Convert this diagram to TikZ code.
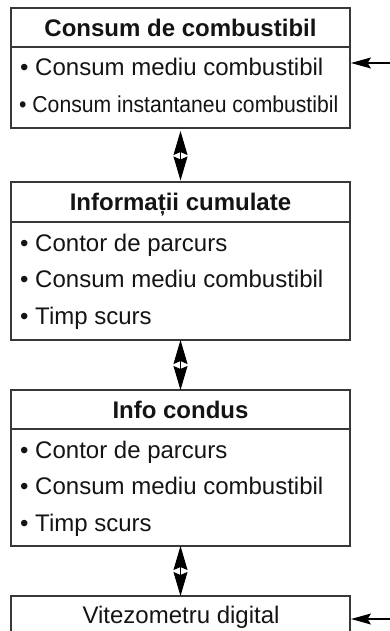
\documentclass[tikz,border=0pt]{standalone}
\usepackage{fontspec}
\setmainfont{Liberation Sans}
\usetikzlibrary{arrows.meta}
\begin{document}
\begin{tikzpicture}[x=1pt,y=-1pt,
  box/.style={draw=black!78,line width=1.2pt,minimum width=339pt,inner sep=0pt,outer sep=0pt},
  ttl/.style={font=\fontsize{24}{28}\selectfont\bfseries,inner sep=0pt,anchor=base,text=black!92},
  itm/.style={font=\fontsize{24}{28}\selectfont,inner sep=0pt,anchor=base west,text=black!92},
  plain/.style={font=\fontsize{24}{28}\selectfont,inner sep=0pt,anchor=base,text=black!92},
  dbl/.style={line width=1pt,{Stealth[length=24pt,width=14pt,inset=3pt]}-{Stealth[length=24pt,width=14pt,inset=3pt]}},
  inarrow/.style={line width=1.1pt,-{Stealth[length=20pt,width=11pt,inset=3.5pt]}}]
\useasboundingbox (0,0) rectangle (390,631);
\clip (0,0) rectangle (390,631);
% box 1
\node[box,minimum height=39pt] (t1) at (180.5,27.5) {};
\node[box,minimum height=81pt] (b1) at (180.5,87.5) {};
\node[ttl] (t1x) at (180.5,36.5) {Consum de combustibil};
\node[itm] (i11) at (20,76) {• Consum mediu combustibil};
\node[itm,font=\fontsize{23}{26}\selectfont] (i12) at (19,112.5) {\scalebox{0.92}[1]{• Consum instantaneu combustibil}};
% box 2
\node[box,minimum height=40pt] (t2) at (180.5,202) {};
\node[box,minimum height=118pt] (b2) at (180.5,281) {};
\node[ttl] (t2x) at (180.5,210.5) {Informații cumulate};
\node[itm] (i21) at (20,251) {• Contor de parcurs};
\node[itm] (i22) at (20,287.5) {• Consum mediu combustibil};
\node[itm] (i23) at (20,324) {• Timp scurs};
% box 3
\node[box,minimum height=39pt] (t3) at (180.5,409.5) {};
\node[box,minimum height=117pt] (b3) at (180.5,487.5) {};
\node[ttl] (t3x) at (180.5,418.5) {Info condus};
\node[itm] (i31) at (20,458) {• Contor de parcurs};
\node[itm] (i32) at (20,494.5) {• Consum mediu combustibil};
\node[itm] (i33) at (20,531) {• Timp scurs};
% box 4
\node[box,minimum height=64pt] (b4) at (180.5,628) {};
\node[plain] (b4x) at (181,623) {Vitezometru digital};
% connectors
\draw[dbl,shorten <=3pt,shorten >=1.5pt] (b1.south) -- (t2.north);
\draw[dbl] (b2.south) -- (t3.north);
\draw[dbl] (b3.south) -- (b4.north);
\coordinate (in1) at (392,63);
\coordinate (in4) at (392,619);
\draw[inarrow,shorten >=1pt] (in1) -- (in1 -| b1.east);
\draw[inarrow,shorten >=1pt] (in4) -- (in4 -| b4.east);
\end{tikzpicture}
\end{document}
